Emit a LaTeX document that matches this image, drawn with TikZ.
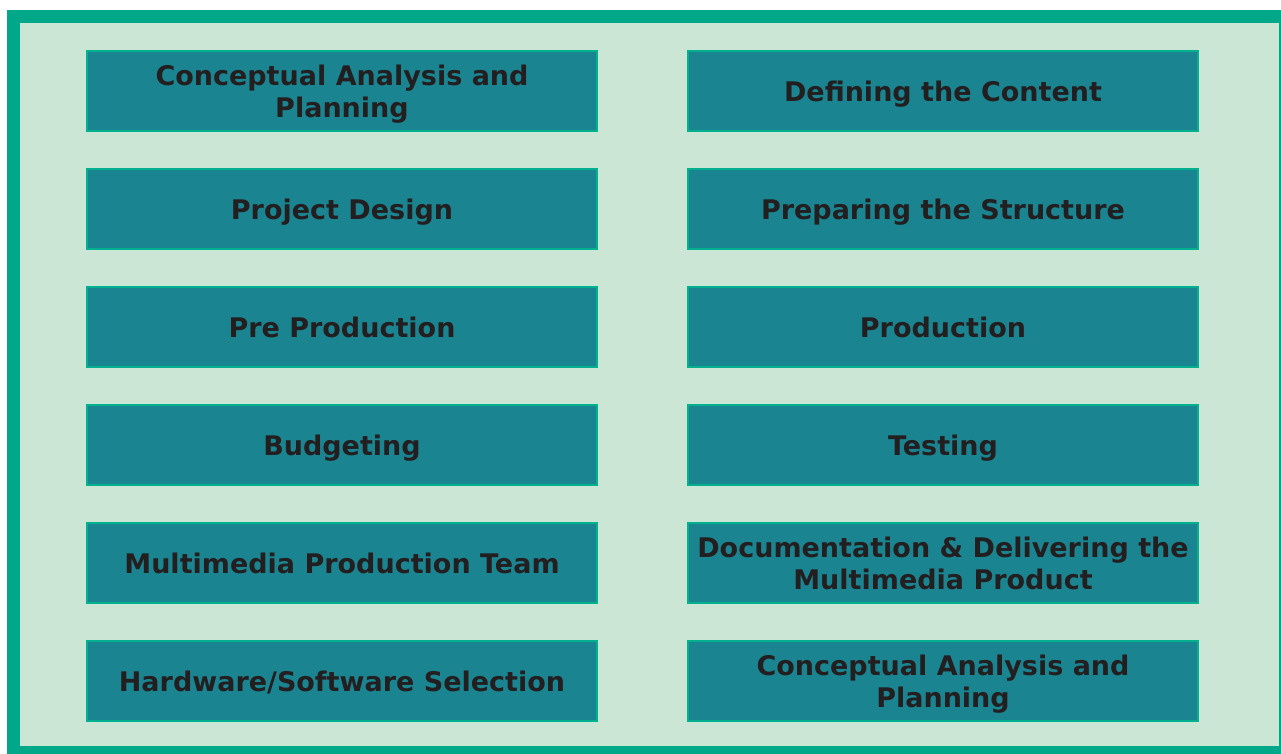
\documentclass[tikz,border=0pt]{standalone}
\usepackage{fontspec}
\setmainfont{DejaVu Sans}
\definecolor{frame}{HTML}{00A88A}
\definecolor{bg}{HTML}{CCE6D5}
\definecolor{boxfill}{HTML}{1A8591}
\definecolor{boxline}{HTML}{00B08F}
\definecolor{txt}{HTML}{231F20}
\tikzset{
  stepbox/.style={draw=boxline, line width=2pt, fill=boxfill, minimum width=510pt, minimum height=80pt,
    inner sep=0pt, anchor=center},
  steptext/.style={inner sep=0pt, align=center, text=txt, font=\fontsize{27}{32}\selectfont\bfseries, anchor=center}
}
\newcommand\stepnode[4]{%
  \node[stepbox] (#1) at (#2,#3) {};
  \node[steptext] (#1t) at ([yshift=-3.8pt]#1.center) {\strut #4\strut};
}
\begin{document}
\begin{tikzpicture}[x=1pt,y=-1pt]
\useasboundingbox (0,0) rectangle (1281,754);
\begin{scope}
\clip (0,0) rectangle (1281,754);
\fill[frame] (7,10) rectangle (1295,770);
\fill[bg] (20,23) rectangle (1279,746);
\end{scope}
\stepnode{l1}{342}{91}{Conceptual Analysis and\\Planning}
\stepnode{l2}{342}{209}{Project Design}
\stepnode{l3}{342}{327}{Pre Production}
\stepnode{l4}{342}{445}{Budgeting}
\stepnode{l5}{342}{563}{Multimedia Production Team}
\stepnode{l6}{342}{681}{Hardware/Software Selection}
\stepnode{r1}{943}{91}{Defining the Content}
\stepnode{r2}{943}{209}{Preparing the Structure}
\stepnode{r3}{943}{327}{Production}
\stepnode{r4}{943}{445}{Testing}
\stepnode{r5}{943}{563}{Documentation \& Delivering the\\Multimedia Product}
\stepnode{r6}{943}{681}{Conceptual Analysis and\\Planning}
\end{tikzpicture}
\end{document}
